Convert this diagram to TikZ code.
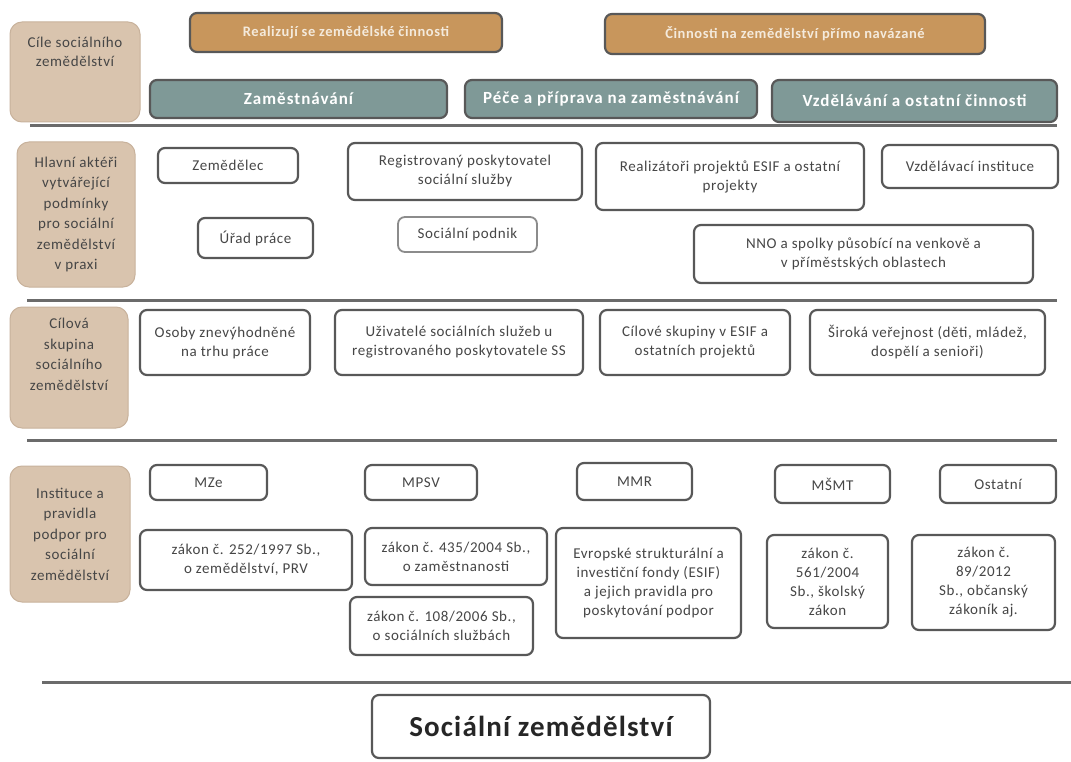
\documentclass[tikz,border=0pt]{standalone}
\usepackage{fontspec}
\setmainfont{Carlito}[LetterSpace=4]
\usepackage{tikz}
\usetikzlibrary{positioning}
\definecolor{tanfill}{RGB}{217,196,174}
\definecolor{tanedge}{RGB}{200,178,156}
\definecolor{orangefill}{RGB}{200,150,92}
\definecolor{tealfill}{RGB}{127,153,151}
\definecolor{edgegray}{RGB}{88,88,88}
\definecolor{textgray}{RGB}{70,70,70}
\definecolor{creamtext}{RGB}{244,234,220}

\begin{document}
\begin{tikzpicture}[line cap=round,line join=round,x=1pt,y=-1pt,
    box/.style={draw=edgegray,line width=2.2pt,rounded corners=7pt,align=center,
        text=textgray,font=\fontsize{15}{19}\selectfont,inner sep=2pt},
    whitebox/.style={box,fill=white},
    tanbox/.style={box,draw=tanedge,line width=1pt,fill=tanfill,rounded corners=12pt,
        font=\fontsize{15}{20.5}\selectfont},
    orangebox/.style={box,fill=orangefill,text=creamtext,font=\bfseries\fontsize{14.5}{17}\selectfont},
    tealbox/.style={box,fill=tealfill,text=white,
        font=\bfseries\fontsize{17}{19}\selectfont\addfontfeature{LetterSpace=6}},
    sepline/.style={draw=black!58,line width=3pt,line cap=butt}]
        \useasboundingbox (0,0) rectangle (1071,762);
        \fill[white] (0,0) rectangle (1071,762);
        \node[tanbox,minimum width=130,minimum height=100] (goals) at (75,72) {};
        \node[align=center,text=textgray,font=\fontsize{15}{19}\selectfont] (goalstext) at (75,52) {Cíle sociálního\\zemědělství};
        \node[orangebox,minimum width=312,minimum height=39] (farmwork) at (346,32.5) {Realizují se zemědělské činnosti};
        \node[orangebox,minimum width=380,minimum height=40] (linkedwork) at (795,34) {Činnosti na zemědělství přímo navázané};
        \node[tealbox,minimum width=297,minimum height=38] (employ) at (298.5,99) {Zaměstnávání};
        \node[tealbox,minimum width=292,minimum height=38] (care) at (611,99) {Péče a příprava na zaměstnávání};
        \node[tealbox,minimum width=285,minimum height=42] (educ) at (914.5,101) {Vzdělávání a ostatní činnosti};
        \draw[sepline] (30,126) -- (1057,126);
        \node[tanbox,minimum width=118,minimum height=145] (actors) at (76,214.5) {Hlavní aktéři\\vytvářející\\podmínky\\pro sociální\\zemědělství\\v praxi};
        \node[whitebox,minimum width=140,minimum height=35] (farmer) at (228,165.5) {Zemědělec};
        \node[whitebox,minimum width=234,minimum height=57] (provider) at (465,171.5) {Registrovaný poskytovatel\\sociální služby};
        \node[whitebox,minimum width=268,minimum height=67] (esifdoers) at (730,176.5) {Realizátoři projektů ESIF a ostatní\\projekty};
        \node[whitebox,minimum width=176,minimum height=43] (school) at (970,166.5) {Vzdělávací instituce};
        \node[whitebox,minimum width=115,minimum height=40] (office) at (255.5,238) {Úřad práce};
        \node[whitebox,draw=black!45,line width=1.8pt,minimum width=139,minimum height=35] (socfirm) at (467.5,234.5) {Sociální podnik};
        \node[whitebox,minimum width=339,minimum height=58] (ngo) at (863.5,254) {NNO a spolky působící na venkově a\\v příměstských oblastech};
        \draw[sepline] (27,300) -- (1057,300);
        \node[tanbox,minimum width=118,minimum height=121] (target) at (69,367.5) {Cílová\\skupina\\sociálního\\zemědělství\\[6pt]};
        \node[whitebox,minimum width=170,minimum height=65] (disadv) at (225,342.5) {Osoby znevýhodněné\\na trhu práce};
        \node[whitebox,minimum width=248,minimum height=65] (users) at (459,342.5) {Uživatelé sociálních služeb u\\registrovaného poskytovatele SS};
        \node[whitebox,minimum width=190,minimum height=65] (esifgroups) at (695,342.5) {Cílové skupiny v ESIF a\\ostatních projektů};
        \node[whitebox,minimum width=235,minimum height=65] (public) at (927.5,342.5) {Široká veřejnost (děti, mládež,\\dospělí a senioři)};
        \draw[sepline] (27,440) -- (1057,440);
        \node[tanbox,minimum width=120,minimum height=136] (rules) at (70,534) {Instituce a\\pravidla\\podpor pro\\sociální\\zemědělství};
        \node[whitebox,minimum width=117,minimum height=35] (mze) at (208.5,482.5) {MZe};
        \node[whitebox,minimum width=112,minimum height=35] (mpsv) at (421,482.5) {MPSV};
        \node[whitebox,minimum width=115,minimum height=37] (mmr) at (634.5,481.5) {MMR};
        \node[whitebox,minimum width=115,minimum height=38] (msmt) at (832.5,484) {MŠMT};
        \node[whitebox,minimum width=116,minimum height=38] (other) at (998,484) {Ostatní};
        \node[whitebox,minimum width=212,minimum height=60] (law252) at (246,560) {zákon č. 252/1997 Sb.,\\o zemědělství, PRV};
        \node[whitebox,minimum width=182,minimum height=57] (law435) at (456,556.5) {zákon č. 435/2004 Sb.,\\o zaměstnanosti};
        \node[whitebox,minimum width=183,minimum height=58] (law108) at (441.5,626) {zákon č. 108/2006 Sb.,\\o sociálních službách};
        \node[whitebox,minimum width=185,minimum height=110] (esif) at (648.5,583) {Evropské strukturální a\\investiční fondy (ESIF)\\a jejich pravidla pro\\poskytování podpor};
        \node[whitebox,minimum width=121,minimum height=93] (law561) at (827.5,581.5) {zákon č.\\561/2004\\Sb., školský\\zákon};
        \node[whitebox,minimum width=143,minimum height=95] (law89) at (983.5,582.5) {zákon č.\\89/2012\\Sb., občanský\\zákoník aj.};
        \draw[sepline] (42,682) -- (1071,682);
        \node[whitebox,minimum width=338,minimum height=63,font=\bfseries\fontsize{29}{32}\selectfont,text=black!85] (socfarm) at (541,726.5) {Sociální zemědělství};
\end{tikzpicture}
\end{document}
